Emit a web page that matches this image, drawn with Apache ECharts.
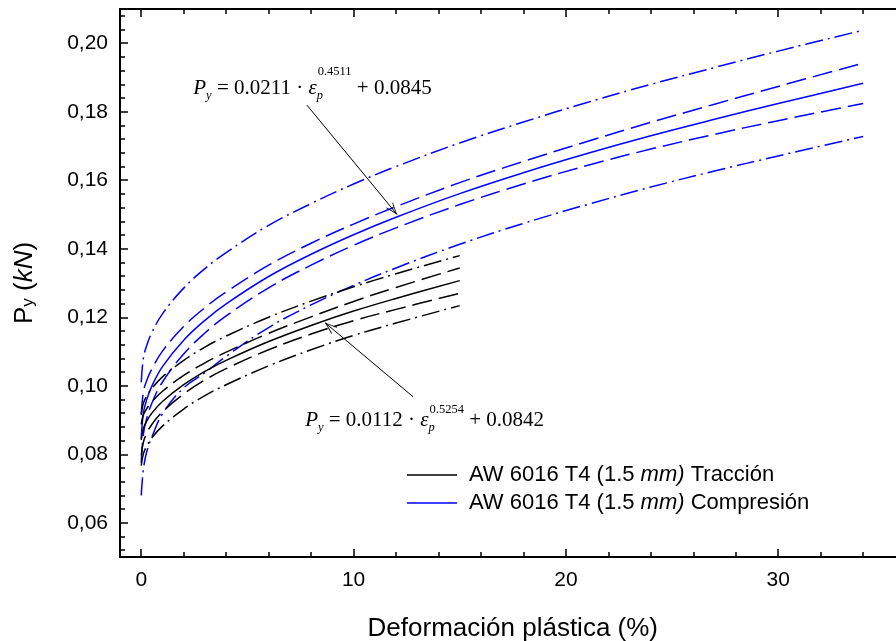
<!DOCTYPE html>
<html><head><meta charset="utf-8">
<script src="https://cdn.jsdelivr.net/npm/echarts@6/dist/echarts.min.js"></script>
<style>html,body{margin:0;padding:0;background:#fff}#c{width:896px;height:641px}</style>
</head><body><div id="c"></div>
<script>
// ---- data ----
const compX        = [0, 0.1, 0.25, 0.5, 1, 2, 3, 4, 6, 8, 10, 12, 15, 18, 21, 24, 27, 30, 34];
const compFit      = [0.0845, 0.0920, 0.0958, 0.0999, 0.1056, 0.1133, 0.1191, 0.1239, 0.1319, 0.1384, 0.1441, 0.1492, 0.1561, 0.1622, 0.1678, 0.1730, 0.1778, 0.1824, 0.1883];
const compConfUp   = [0.0915, 0.0982, 0.1014, 0.1049, 0.1101, 0.1173, 0.1228, 0.1274, 0.1352, 0.1416, 0.1472, 0.1523, 0.1593, 0.1655, 0.1713, 0.1769, 0.1822, 0.1874, 0.1942];
const compConfLow  = [0.0775, 0.0858, 0.0902, 0.0949, 0.1011, 0.1093, 0.1154, 0.1204, 0.1286, 0.1352, 0.1410, 0.1461, 0.1529, 0.1589, 0.1643, 0.1691, 0.1734, 0.1774, 0.1824];
const compPredUp   = [0.1010, 0.1080, 0.1116, 0.1155, 0.1210, 0.1285, 0.1342, 0.1389, 0.1468, 0.1532, 0.1589, 0.1640, 0.1709, 0.1770, 0.1827, 0.1880, 0.1929, 0.1977, 0.2038];
const compPredLow  = [0.0680, 0.0755, 0.0805, 0.0850, 0.0918, 0.0994, 0.1038, 0.1086, 0.1170, 0.1236, 0.1293, 0.1344, 0.1413, 0.1474, 0.1529, 0.1580, 0.1627, 0.1671, 0.1728];

const tracX        = [0, 0.1, 0.25, 0.5, 1, 2, 3, 4, 6, 8, 10, 12, 15];
const tracFit      = [0.0842, 0.0875, 0.0896, 0.0920, 0.0954, 0.1003, 0.1042, 0.1074, 0.1129, 0.1176, 0.1218, 0.1255, 0.1307];
const tracConfUp   = [0.0887, 0.0915, 0.0932, 0.0953, 0.0984, 0.1030, 0.1067, 0.1098, 0.1153, 0.1201, 0.1246, 0.1287, 0.1344];
const tracConfLow  = [0.0797, 0.0835, 0.0860, 0.0887, 0.0924, 0.0976, 0.1017, 0.1050, 0.1105, 0.1151, 0.1190, 0.1223, 0.1270];
const tracPredUp   = [0.0917, 0.0949, 0.0969, 0.0992, 0.1026, 0.1074, 0.1113, 0.1145, 0.1200, 0.1247, 0.1289, 0.1327, 0.1380];
const tracPredLow  = [0.0767, 0.0801, 0.0823, 0.0848, 0.0882, 0.0932, 0.0971, 0.1003, 0.1058, 0.1105, 0.1147, 0.1183, 0.1234];

const xMajorTicks = [0, 10, 20, 30];
const xMinorTicks = [2, 4, 6, 8, 12, 14, 16, 18, 22, 24, 26, 28, 32, 34];
const yMajorTicks = [0.06, 0.08, 0.10, 0.12, 0.14, 0.16, 0.18, 0.20];
const yMinorTicks = [0.052, 0.056, 0.064, 0.068, 0.072, 0.076, 0.084, 0.088, 0.092, 0.096,
  0.104, 0.108, 0.112, 0.116, 0.124, 0.128, 0.132, 0.136, 0.144, 0.148, 0.152, 0.156,
  0.164, 0.168, 0.172, 0.176, 0.184, 0.188, 0.192, 0.196, 0.204, 0.208];

const nameTrac = 'AW 6016 T4 (1.5 mm) Tracción';
const nameComp = 'AW 6016 T4 (1.5 mm) Compresión';

// annotation anchors in data units
const compArrowFrom = [7.81, 0.1819];
const compArrowTo   = [12.05, 0.1500];
const tracArrowFrom = [12.8, 0.0968];
const tracArrowTo   = [8.66, 0.1184];
const compEqAnchor  = [2.45, 0.1868];
const tracEqAnchor  = [7.72, 0.0898];

// ---- chart ----
const SANS = 'Liberation Sans, Arial, sans-serif';
const SERIF = 'Liberation Serif, Times New Roman, serif';
const BLUE = '#0000ff', BLACK = '#000000';
const DASH = [20, 7];
const DASHDOT = [18, 5, 2, 5];
const ARROW = 'path://M0,0 L-4,10 L-3.2,10 L0,1.8 L3.2,10 L4,10 Z M0,-10 L0,-10';
const LEGEND_ICON = 'path://M0,0 L100,0 L100,3 L0,3 Z';

function mk(name, xs, ys, color, type) {
  return {
    type: 'line', name: name, xAxisIndex: 0, yAxisIndex: 0,
    data: xs.map((x, i) => [x, ys[i]]),
    smooth: 0.4, symbol: 'none', showSymbol: false,
    lineStyle: { color: color, width: 1.5, type: type },
    itemStyle: { color: color },
    silent: true, animation: false, z: 3
  };
}

function eqRich(supPadTop) {
  return {
    m:   { fontFamily: SERIF, fontSize: 21, lineHeight: 46, verticalAlign: 'middle', color: BLACK },
    mi:  { fontFamily: SERIF, fontSize: 21, fontStyle: 'italic', lineHeight: 46, verticalAlign: 'middle', color: BLACK },
    sub: { fontFamily: SERIF, fontSize: 12.5, fontStyle: 'italic', verticalAlign: 'bottom', padding: [0, 0, 9, 0], color: BLACK },
    subp:{ fontFamily: SERIF, fontSize: 12.5, fontStyle: 'italic', verticalAlign: 'bottom', padding: [0, 0, 9, 0], color: BLACK, width: 1 },
    sup: { fontFamily: SERIF, fontSize: 12.5, verticalAlign: 'top', padding: [supPadTop, 0, 0, 0], color: BLACK }
  };
}
const compEqText = '{mi|P}{sub|y}{m| = 0.0211 · }{mi|ε}{subp|p}{sup|0.4511}{m| + 0.0845}';
const tracEqText = '{mi|P}{sub|y}{m| = 0.0112 · }{mi|ε}{subp|p}{sup|0.5254}{m| + 0.0842}';

const series = [
  mk('cPU', compX, compPredUp, BLUE, DASHDOT),
  mk('cCU', compX, compConfUp, BLUE, DASH),
  mk(nameComp, compX, compFit, BLUE, 'solid'),
  mk('cCL', compX, compConfLow, BLUE, DASH),
  mk('cPL', compX, compPredLow, BLUE, DASHDOT),
  mk('tPU', tracX, tracPredUp, BLACK, DASHDOT),
  mk('tCU', tracX, tracConfUp, BLACK, DASH),
  mk(nameTrac, tracX, tracFit, BLACK, 'solid'),
  mk('tCL', tracX, tracConfLow, BLACK, DASH),
  mk('tPL', tracX, tracPredLow, BLACK, DASHDOT)
];
series[7].markLine = {
  silent: true, animation: false,
  symbol: ['none', ARROW], symbolSize: [9, 24],
  lineStyle: { color: BLACK, width: 1, type: 'solid' },
  itemStyle: { color: BLACK },
  label: { show: false },
  emphasis: { disabled: true },
  data: [
    [{ coord: compArrowFrom }, { coord: compArrowTo }],
    [{ coord: tracArrowFrom }, { coord: tracArrowTo }]
  ]
};
series[7].markPoint = {
  silent: true, animation: false, symbol: 'circle', symbolSize: 0,
  itemStyle: { color: 'rgba(0,0,0,0)' },
  label: { show: true, position: 'right', distance: 0 },
  data: [
    { coord: compEqAnchor, label: { show: true, position: 'right', distance: 0, formatter: compEqText, rich: eqRich(0) } },
    { coord: tracEqAnchor, label: { show: true, position: 'right', distance: 0, formatter: tracEqText, rich: eqRich(6) } }
  ]
};

const gridBox = { left: 120, top: 9, width: 785.6, height: 548, containLabel: false, outerBoundsMode: 'none' };
const tickStyle = { color: BLACK, width: 1.5 };

function xAx(gridIndex, position, ticks, len, showLine, showLabel) {
  return {
    type: 'value', gridIndex: gridIndex, position: position, min: -1, max: 36,
    axisLine: { show: showLine, onZero: false, lineStyle: { color: BLACK, width: 2 } },
    axisTick: { show: true, inside: true, length: len, customValues: ticks, lineStyle: tickStyle },
    axisLabel: { show: showLabel, customValues: ticks, color: BLACK, fontSize: 21, fontFamily: SANS, margin: 13 },
    splitLine: { show: false }, minorTick: { show: false }
  };
}
function yAx(gridIndex, ticks, len, showLine, showLabel) {
  return {
    type: 'value', gridIndex: gridIndex, position: 'left', min: 0.05, max: 0.21,
    axisLine: { show: showLine, onZero: false, lineStyle: { color: BLACK, width: 2 } },
    axisTick: { show: true, inside: true, length: len, customValues: ticks, lineStyle: tickStyle },
    axisLabel: { show: showLabel, customValues: ticks, color: BLACK, fontSize: 21, fontFamily: SANS, margin: 12,
                 formatter: v => v.toFixed(2).replace('.', ',') },
    splitLine: { show: false }
  };
}

const xMain = xAx(0, 'bottom', xMajorTicks, 8, true, true);
xMain.name = 'Deformación plástica (%)';
xMain.nameLocation = 'middle';
xMain.nameGap = 59;
xMain.nameTextStyle = { fontSize: 26, color: BLACK, fontFamily: SANS };

const yMain = yAx(0, yMajorTicks, 8, true, true);
yMain.name = '{p|P}{s|y}{p| (}{i|kN}{p|)}';
yMain.nameLocation = 'middle';
yMain.nameRotate = 90;
yMain.nameGap = 78;
yMain.nameTextStyle = {
  color: BLACK,
  rich: {
    p: { fontSize: 26, fontFamily: SANS, lineHeight: 34, verticalAlign: 'middle', color: BLACK },
    i: { fontSize: 26, fontFamily: SANS, fontStyle: 'italic', lineHeight: 34, verticalAlign: 'middle', color: BLACK },
    s: { fontSize: 17, fontFamily: SANS, verticalAlign: 'bottom', padding: [0, 0, 5, 0], color: BLACK }
  }
};

const option = {
  backgroundColor: '#ffffff',
  animation: false,
  grid: [Object.assign({}, gridBox), Object.assign({}, gridBox)],
  xAxis: [
    xMain,
    xAx(0, 'top', xMajorTicks, 8, true, false),
    xAx(1, 'bottom', xMinorTicks, 5, false, false),
    xAx(1, 'top', xMinorTicks, 5, false, false)
  ],
  yAxis: [
    yMain,
    yAx(1, yMinorTicks, 5, false, false)
  ],
  legend: {
    orient: 'vertical', left: 402, top: 459,
    itemWidth: 50, itemHeight: 1.5, itemGap: 6,
    icon: LEGEND_ICON,
    data: [nameTrac, nameComp],
    selectedMode: false,
    formatter: function (n) {
      const tail = n === nameTrac ? 'Tracción' : 'Compresión';
      return '{a|AW 6016 T4 (1.5 }{i|mm)}{a| ' + tail + '}';
    },
    textStyle: {
      color: BLACK, fontSize: 22, fontFamily: SANS, padding: [0, 0, 0, 7],
      rich: {
        a: { fontSize: 22, fontFamily: SANS, color: BLACK, lineHeight: 22 },
        i: { fontSize: 22, fontFamily: SANS, fontStyle: 'italic', color: BLACK, lineHeight: 22 }
      }
    }
  },
  series: series
};

const chart = echarts.init(document.getElementById('c'), null, { renderer: 'canvas' });
chart.setOption(option);
</script>
</body></html>
